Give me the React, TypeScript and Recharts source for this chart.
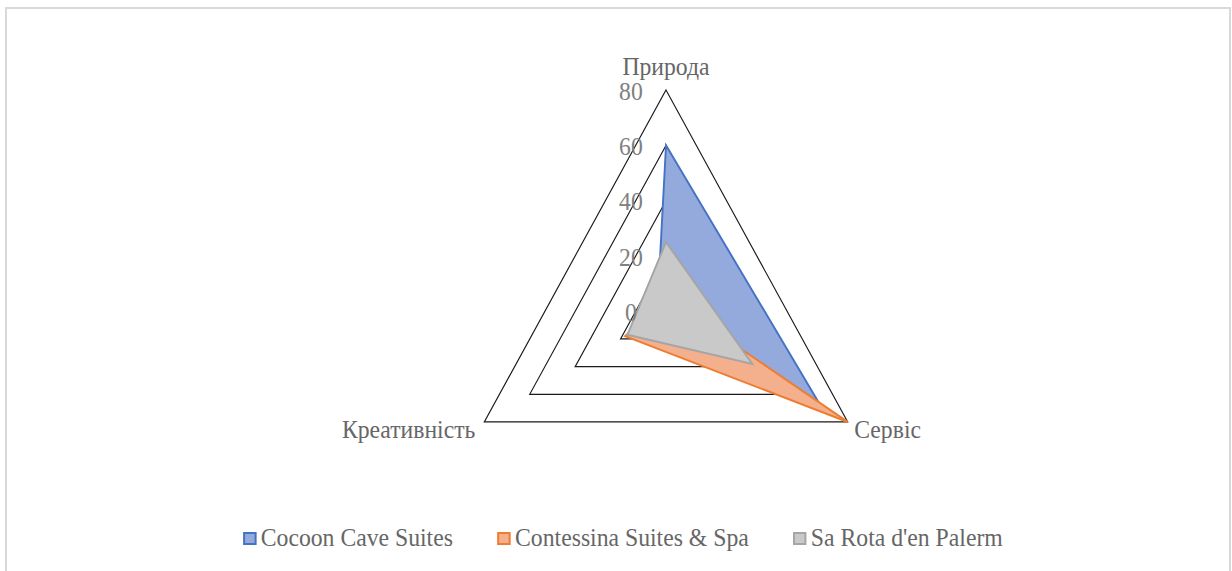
import React from 'react';
import { RadarChart, Radar, PolarGrid, PolarAngleAxis, PolarRadiusAxis, Legend } from 'recharts';

const categories = ['Природа', 'Сервіс', 'Креативність'];
const cocoonCave = [60, 68, 4];
const contessina = [5, 80, 18];
const saRota = [25, 38, 17];
const radiusTicks = [0, 20, 40, 60, 80];

const series = [
  { key: 'cocoon', name: 'Cocoon Cave Suites', stroke: '#4472C4', fill: '#94A9DC' },
  { key: 'contessina', name: 'Contessina Suites & Spa', stroke: '#ED7D31', fill: '#F4B08C' },
  { key: 'saRota', name: "Sa Rota d'en Palerm", stroke: '#A5A5A5', fill: '#C9C9C9' },
];

const data = categories.map((axis, i) => ({
  axis,
  cocoon: cocoonCave[i],
  contessina: contessina[i],
  saRota: saRota[i],
}));

const W = 1222;
const H = 600;
const CX = 659;
const SX = 0.948; // the source picture is a little narrower than tall
const FONT = "'Liberation Serif', 'Times New Roman', serif";
const TEXT = '#666666';

const AngleTick = (props: any) => {
  const { x, y, payload } = props;
  let anchor = 'middle';
  let dx = 0;
  let dy = 0;
  if (payload.value === categories[0]) {
    dy = -16;
  } else if (payload.value === categories[1]) {
    anchor = 'start';
    dy = 3;
  } else {
    anchor = 'end';
    dx = -2.5;
    dy = 3;
  }
  return (
    <text x={x + dx} y={y + dy} textAnchor={anchor} dominantBaseline="central"
      fill={TEXT} fontSize={25} fontFamily={FONT}>
      {payload.value}
    </text>
  );
};

const RadiusTick = (props: any) => {
  const { x, y, payload } = props;
  return (
    <text x={x - 37} y={y + 1} textAnchor="middle" dominantBaseline="central"
      fill="#808080" fontSize={25} fontFamily={FONT}>
      {payload.value}
    </text>
  );
};

const renderLegend = () => (
  <div style={{ display: 'flex', alignItems: 'center', fontFamily: FONT, fontSize: 25, color: TEXT, lineHeight: '24px', whiteSpace: 'nowrap' }}>
    {series.map((s) => (
      <div key={s.key} style={{ display: 'flex', alignItems: 'center', marginRight: 47 }}>
        <span style={{
          display: 'inline-block', width: 13.5, height: 13, boxSizing: 'border-box',
          border: `2px solid ${s.stroke}`, background: s.fill, marginRight: 5,
        }} />
        <span style={{ fontFamily: FONT }}>{s.name}</span>
      </div>
    ))}
  </div>
);

export default function App() {
  return (
    <div style={{
      position: 'absolute', left: 5, top: 7, width: W, height: H,
      border: '2px solid #d9d9d9', background: '#fff', overflow: 'hidden',
    }}>
      <div style={{ transform: `scaleX(${SX})`, transformOrigin: `${CX}px 0px`, width: W, height: H }}>
        <RadarChart width={W} height={H} data={data} cx={CX} cy={302.3} outerRadius={221.3}
          margin={{ top: 0, right: 0, bottom: 0, left: 0 }}>
          <PolarGrid gridType="polygon" radialLines={false} stroke="#1a1a1a" strokeWidth={1.2} />
          <PolarAngleAxis dataKey="axis" tick={<AngleTick />} axisLine={false} tickLine={false} />
          <PolarRadiusAxis angle={90} domain={[radiusTicks[0], radiusTicks[radiusTicks.length - 1]]}
            tickCount={radiusTicks.length} tick={<RadiusTick />} axisLine={false} tickLine={false} />
          {series.map((s) => (
            <Radar key={s.key} name={s.name} dataKey={s.key} stroke={s.stroke} strokeWidth={2}
              fill={s.fill} fillOpacity={1} dot={false} isAnimationActive={false} />
          ))}
          <Legend content={renderLegend} wrapperStyle={{ position: 'absolute', top: 517, left: 213, width: 'auto' }} />
        </RadarChart>
      </div>
    </div>
  );
}
